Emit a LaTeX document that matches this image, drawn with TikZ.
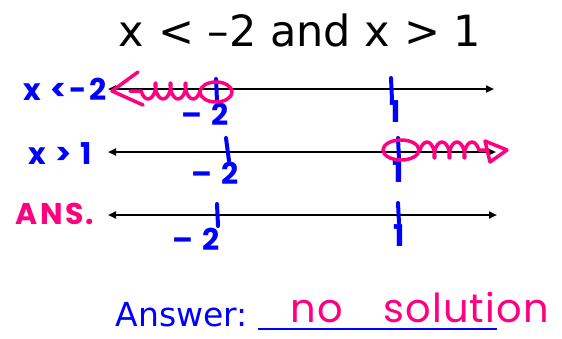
\documentclass[tikz,border=0pt]{standalone}
\usepackage{fontspec}
\setmainfont{DejaVu Sans}
\newfontfamily\handfont[LetterSpace=8]{Poppins}
\newfontfamily\scrawlfont[LetterSpace=3]{Poppins}
\usetikzlibrary{arrows.meta,decorations.pathmorphing}
\definecolor{ink}{RGB}{0,0,255}
\definecolor{marker}{RGB}{255,0,128}

\begin{document}
\begin{tikzpicture}[x=1pt,y=-1pt,
  numline/.style={black,line width=2pt,{Triangle[length=8pt,width=7pt]}-{Triangle[length=8pt,width=7pt]}},
  bluepen/.style={ink,line width=4pt,line cap=round},
  pinkpen/.style={marker,line width=3.5pt,line cap=round,line join=round},
  scribble/.style={pinkpen,decorate,decoration={coil,aspect=0.4,segment length=15pt,amplitude=8pt}},
  handtext/.style={font=\handfont\bfseries\fontsize{30}{30}\selectfont}]
\useasboundingbox (0,0) rectangle (562,338);
\coordinate (A) at (108,89);
\coordinate (B) at (494,89);
\coordinate (C) at (108,152);
\coordinate (D) at (496,152);
\coordinate (E) at (108,215);
\coordinate (F) at (497,215);
\node (title) at (300,30) {\fontsize{43}{50}\selectfont x < –2 and x > 1};
\draw[numline] (A)--(B);
\draw[numline] (C)--(D);
\draw[numline] (E)--(F);
% ticks at -2 and 1
\draw[bluepen] (216,79)--(217,101);
\draw[bluepen] (226,138)--(229,161);
\draw[bluepen] (217,204)--(218,226);
\draw[bluepen] (391,78)--(392,100);
\draw[bluepen] (398,138)--(399,160);
\draw[bluepen] (398,203)--(399,223);
\node[handtext,ink] (m1) at (205,114) {–\,\,2};
\node[handtext,ink] (m2) at (215,173) {–\,\,2};
\node[handtext,ink] (m3) at (196,239) {–\,\,2};
\node[handtext,ink] (o1) at (395,112) {1};
\node[handtext,ink] (o2) at (398,172) {1};
\node[handtext,ink] (o3) at (399,236) {1};
\node[handtext,ink] (lab1) at (65,89) {x <-2};
\node[handtext,ink] (lab2) at (60,154) {x > 1};
\node[handtext,marker] (lab3) at (55,214) {ANS.};
% shading
\draw[pinkpen] (216,92) ellipse [x radius=16,y radius=10];
\draw[scribble] (200,91)--(130,91);
\draw[pinkpen] (138,72)--(112,91)--(143,105);
\draw[pinkpen] (401,150) ellipse [x radius=18,y radius=10];
\draw[scribble] (420,150)--(488,150);
\draw[pinkpen] (485,141)--(507,150)--(490,162)--cycle;
% answer
\node[ink,anchor=base west] (ans) at (112,326) {\fontsize{33}{36}\selectfont Answer:};
\coordinate (U1) at (258,329);
\coordinate (U2) at (497,329);
\draw[ink,line width=2.5pt] (U1)--(U2);
\node[marker,anchor=base,inner sep=0pt,text depth=0pt,font=\scrawlfont\fontsize{40}{40}\selectfont] (sol) at (420,322) {no\quad solution};
\end{tikzpicture}
\end{document}
